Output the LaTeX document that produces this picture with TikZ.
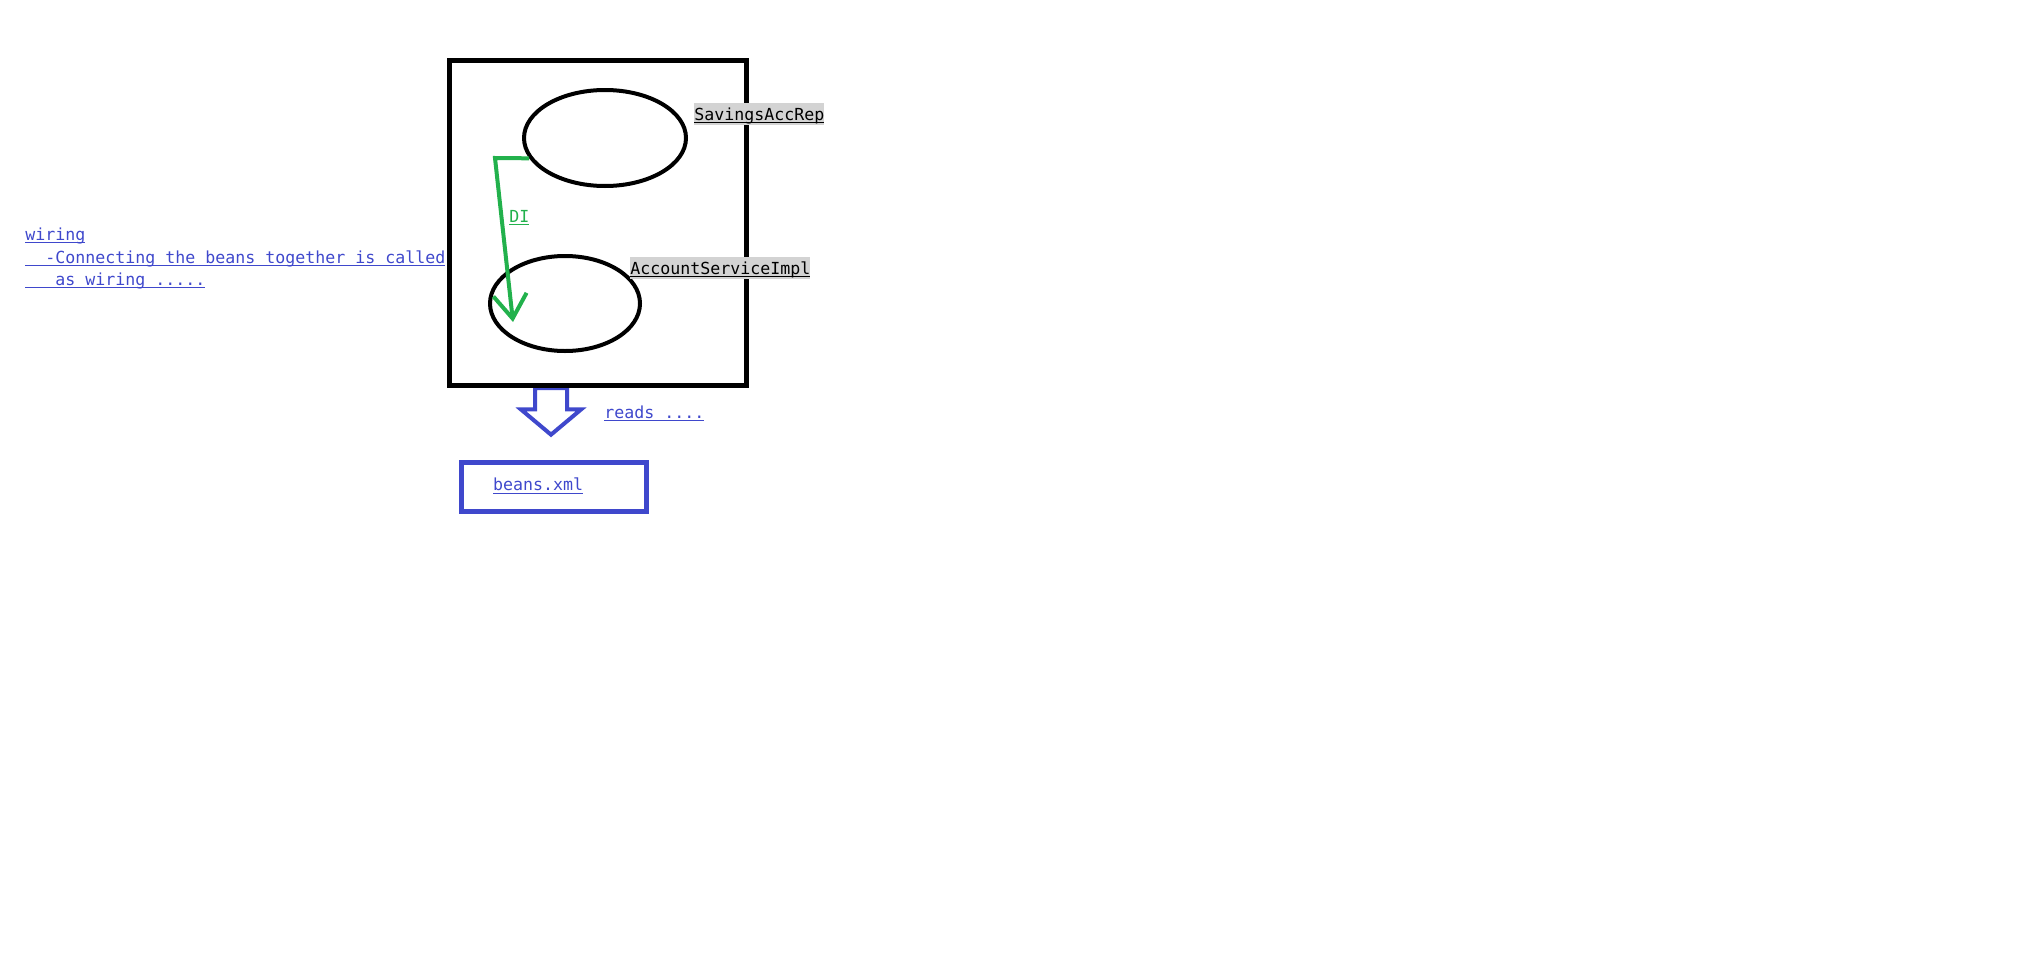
\documentclass[tikz,border=0pt]{standalone}
\usepackage{fontspec}
\setmonofont{DejaVu Sans Mono}
\usepackage{tikz}
\usetikzlibrary{arrows.meta,shapes.geometric,shapes.arrows}
\definecolor{paintblue}{RGB}{63,72,204}
\definecolor{paintgreen}{RGB}{34,177,76}
\definecolor{notegray}{RGB}{211,211,211}
\newcommand{\ulin}[1]{\setbox0\hbox{#1}\rlap{\rule[-2.6pt]{\wd0}{0.9pt}}\box0}
\newcommand{\lblstrut}{\rule[-3.75pt]{0pt}{16.5pt}}

\begin{document}
\begin{tikzpicture}[x=0.75pt,y=-0.75pt,
                    font=\ttfamily\fontsize{12.46pt}{16.5pt}\selectfont\frenchspacing]
  \tikzstyle{every node}=[inner sep=0pt]
  \tikzstyle{ctx}=[rectangle,draw=black,line width=3.75pt,minimum width=222.75pt,minimum height=243.75pt]
  \tikzstyle{bean}=[ellipse,draw=black,line width=3pt]
  \tikzstyle{beanname}=[fill=notegray,text=black,anchor=base west]
  \tikzstyle{note}=[text=paintblue,anchor=base west]
  \tikzstyle{di}=[draw=paintgreen,line width=3pt,-{Straight Barb[length=18pt,width=25pt]}]
  \tikzstyle{readsarrow}=[single arrow,draw=paintblue,line width=3pt,rotate=-90,anchor=tail,
                          inner ysep=10.5pt,single arrow head extend=10.5pt,
                          single arrow tip angle=100,minimum height=35pt]
  \tikzstyle{xmlbox}=[rectangle,draw=paintblue,line width=3.75pt,text=paintblue,align=left,
                      text width=90.75pt,inner xsep=24pt,minimum height=36.75pt,
                      text height=11pt,text depth=4.5pt]

  \useasboundingbox (0,0) rectangle (2022,978);

  % left note
  \node[note] (wiring1) at (25,240) {\ulin{wiring}};
  \node[note] (wiring2) at (25,263) {\ulin{~~-Connecting the beans together is called}};
  \node[note] (wiring3) at (25,285) {\ulin{~~~as wiring .....}};

  % container with the two beans
  \node[readsarrow] (reads) at (551,386) {};
  \node[ctx] (ctx) at (597.5,222.5) {};
  \node[bean,minimum width=121.5pt,minimum height=72pt] (savings) at (605,138) {};
  \node[bean,minimum width=112.5pt,minimum height=71.25pt] (service) at (565,303.5) {};
  \node[beanname] (savingslbl) at (694,120) {\ulin{SavingsAccRep}\lblstrut};
  \node[beanname] (servicelbl) at (630,274) {\ulin{AccountServiceImpl}\lblstrut};

  % injection
  \coordinate (dibend) at (495,158);
  \coordinate (diend) at (513,322);
  \draw[di] (savings.195) -- (dibend) -- (diend);
  \node[note,text=paintgreen] (dilbl) at (509,222) {\ulin{DI}};

  % config file
  \node[note] (readslbl) at (604,418) {\ulin{reads ....}};
  \node[xmlbox] (beans) at (553.5,486.5) {\ulin{beans.xml}};
\end{tikzpicture}
\end{document}
